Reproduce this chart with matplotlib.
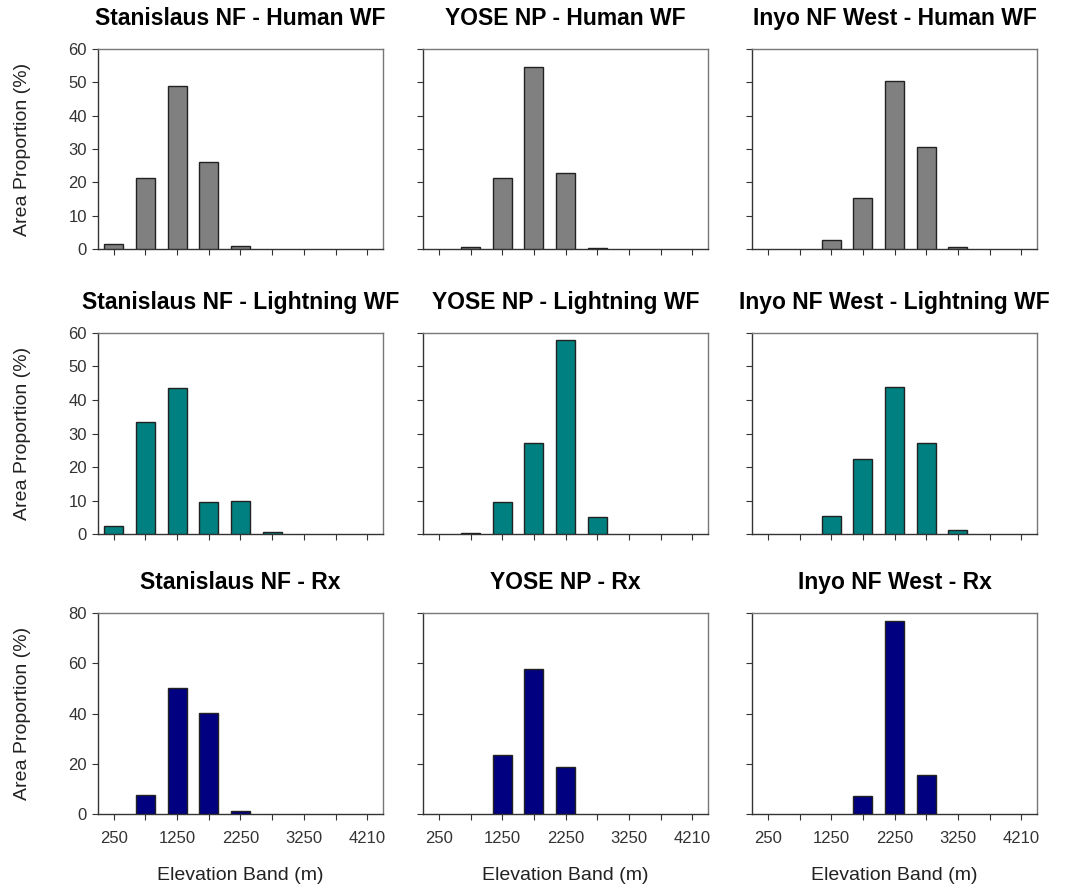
import numpy as np
import matplotlib
matplotlib.use("Agg")
import matplotlib.pyplot as plt

plt.rcParams['font.family'] = ['Liberation Sans', 'DejaVu Sans']

# elevation bands (m) and tick labels
bands = ["250", "750", "1250", "1750", "2250", "2750", "3250", "3750", "4210"]
shown_labels = ["250", "", "1250", "", "2250", "", "3250", "", "4210"]

sites = ["Stanislaus NF", "YOSE NP", "Inyo NF West"]
fire_types = ["Human WF", "Lightning WF", "Rx"]

# area proportion (%) per band
stan_human = [1.6, 21.4, 49.0, 26.1, 0.9, 0, 0, 0, 0]
yose_human = [0, 0.5, 21.2, 54.6, 22.7, 0.3, 0, 0, 0]
inyo_human = [0, 0, 2.6, 15.4, 50.5, 30.7, 0.5, 0, 0]

stan_lightning = [2.4, 33.4, 43.6, 9.7, 10.0, 0.7, 0, 0, 0]
yose_lightning = [0, 0.4, 9.7, 27.3, 57.9, 5.0, 0, 0, 0]
inyo_lightning = [0, 0, 5.5, 22.4, 43.9, 27.2, 1.3, 0, 0]

stan_rx = [0, 7.7, 50.0, 40.3, 1.3, 0, 0, 0, 0]
yose_rx = [0, 0, 23.3, 57.7, 18.6, 0, 0, 0, 0]
inyo_rx = [0, 0, 0, 7.3, 76.7, 15.7, 0, 0, 0]

rows = [
    [stan_human, yose_human, inyo_human],
    [stan_lightning, yose_lightning, inyo_lightning],
    [stan_rx, yose_rx, inyo_rx],
]
row_colors = ["#808080", "#008080", "#000080"]
row_ymax = [60, 60, 80]
row_yticks = [np.arange(0, 61, 10), np.arange(0, 61, 10), np.arange(0, 81, 20)]

W, H = 1075, 888
fig = plt.figure(figsize=(W / 100, H / 100), dpi=100)

col_lr = [(98, 383), (423, 708), (752, 1037)]
row_tb = [(49, 249), (333, 534), (613, 814)]

x = np.arange(len(bands))
for r in range(3):
    for c in range(3):
        left, right = col_lr[c]
        top, bottom = row_tb[r]
        ax = fig.add_axes([left / W, 1 - bottom / H, (right - left) / W, (bottom - top) / H])
        vals = np.array(rows[r][c])
        keep = vals > 0  # empty bands draw nothing
        ax.bar(x[keep], vals[keep], width=0.6, color=row_colors[r],
               edgecolor="#222222", linewidth=1.0, zorder=3)
        ax.set_xlim(-0.5, 8.5)
        ax.set_ylim(0, row_ymax[r])
        ax.set_yticks(row_yticks[r])
        ax.set_xticks(x)
        for s in ax.spines.values():
            s.set_color("#777777")
            s.set_linewidth(1.0)
        ax.spines['left'].set_color("#333333")
        ax.spines['bottom'].set_color("#333333")
        ax.tick_params(direction='out', length=4, width=0.8, color="#333333",
                       labelsize=12, labelcolor="#333333")
        ax.tick_params(axis='y', pad=4)
        if c > 0:
            ax.set_yticklabels([])
        else:
            ax.set_ylabel("Area Proportion (%)", fontsize=14, color="#222222")
            ax.yaxis.set_label_coords(-0.235, 0.5)
        if r < 2:
            ax.set_xticklabels([])
        else:
            ax.set_xticklabels(shown_labels)
            ax.tick_params(axis='x', pad=8)
            ax.set_xlabel("Elevation Band (m)", fontsize=14, color="#222222")
            ax.xaxis.set_label_coords(0.5, -0.265)
        ax.set_title(f"{sites[c]} - {fire_types[r]}", fontsize=16.5, fontweight='bold', pad=17)

fig.savefig("out.png", dpi=100)
